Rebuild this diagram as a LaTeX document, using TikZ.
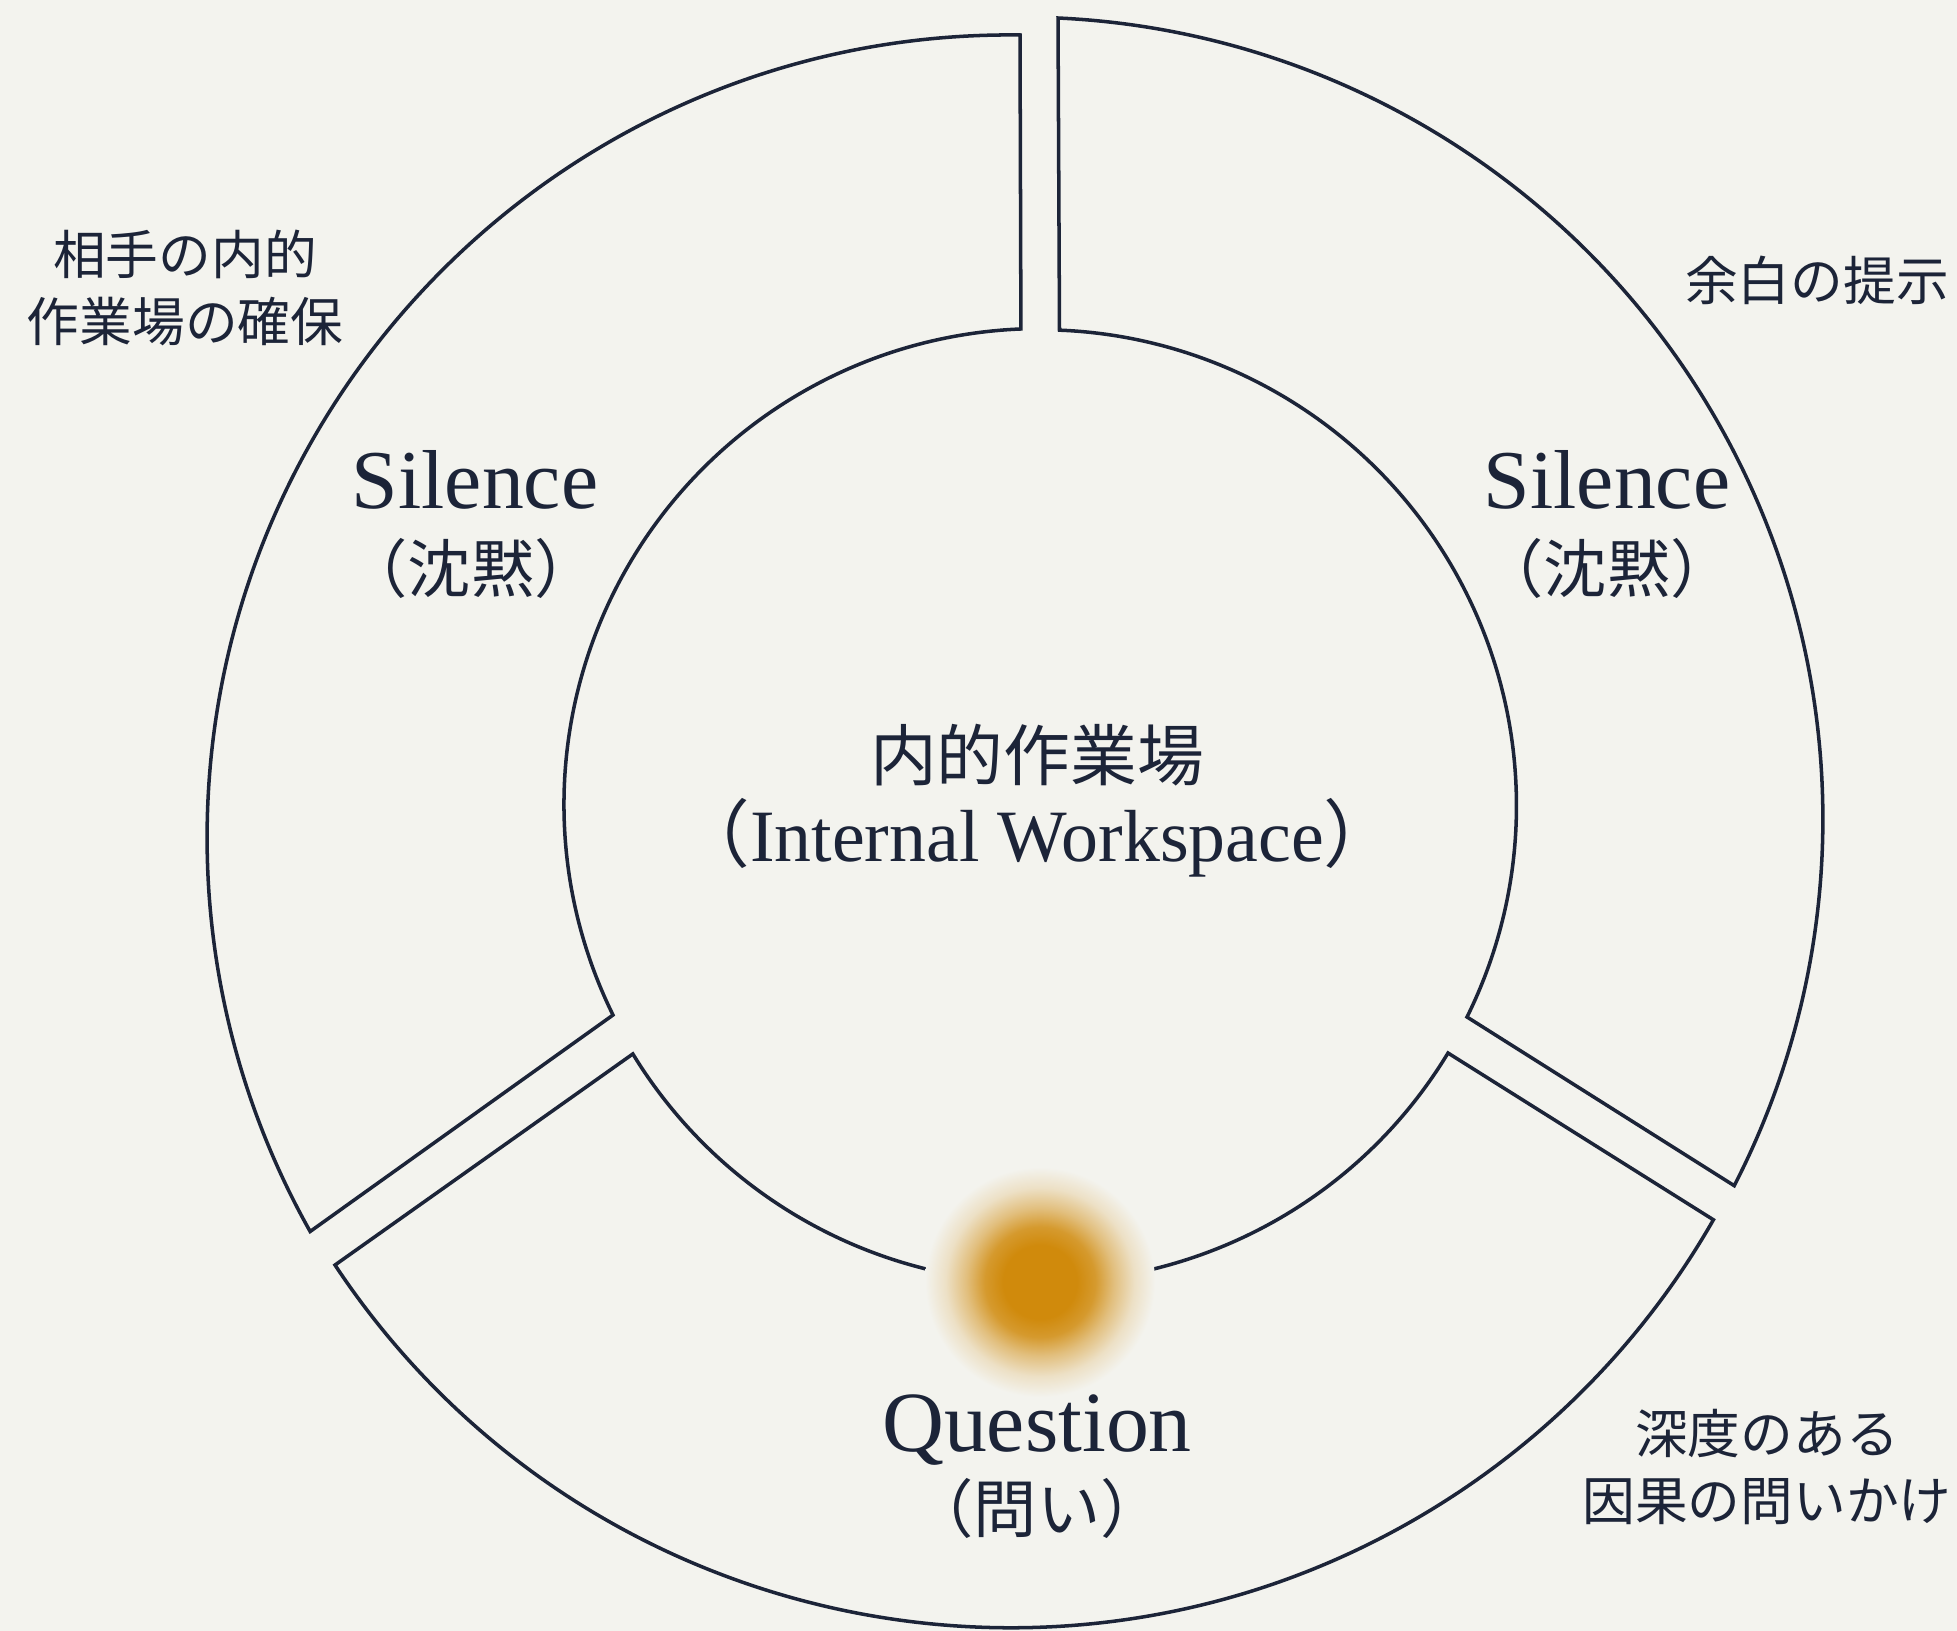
\documentclass[tikz,border=0pt]{standalone}
\usepackage{fontspec}
\setmainfont{Liberation Serif}
\newfontfamily\jp{Noto Sans CJK JP}
\definecolor{bg}{RGB}{243,243,238}
\definecolor{ink}{RGB}{28,36,56}
\definecolor{glowc}{RGB}{208,138,12}
\colorlet{glowa}{glowc!85!bg}
\colorlet{glowb}{glowc!50!bg}
\colorlet{glowd}{glowc!18!bg}
\pgfdeclareradialshading{glowshade}{\pgfpoint{0bp}{0bp}}{color(0bp)=(glowc); color(8bp)=(glowc); color(12bp)=(glowa); color(16bp)=(glowb); color(20.5bp)=(glowd); color(25bp)=(bg); color(50bp)=(bg)}
\begin{document}
\begin{tikzpicture}[
  seg/.style={draw=ink, line width=1pt, line join=miter},
  lab/.style={text=ink, align=center, inner sep=0pt},
  en/.style={lab, font=\fontsize{23.8}{28}\selectfont},
  jpbig/.style={lab, font=\jp\fontsize{18}{22}\selectfont},
  note/.style={lab, font=\jp\fontsize{15}{19}\selectfont}]
\fill[bg] (0,0) rectangle (19.57,-16.31);
\useasboundingbox (0,0) rectangle (19.57,-16.31);
% left segment (Silence)
\draw[seg] (10.20,-0.35) arc[start angle=89.29, end angle=209.35, radius=8.03]
  -- (6.13,-10.15) arc[start angle=206.24, end angle=92.29, radius=4.76] -- cycle;
% right segment (Silence)
\draw[seg] (10.58,-0.18) arc[start angle=87.35, end angle=-27.2, radius=8.02]
  -- (14.67,-10.17) arc[start angle=-26.35, end angle=87.71, radius=4.76] -- cycle;
% bottom segment (Question)
\draw[seg] (3.35,-12.65) arc[start angle=213.52, end angle=330.24, radius=8.10]
  -- (14.48,-10.53) arc[start angle=-31.23, end angle=-148.64, radius=4.77] -- cycle;
% glow
\shade[shading=glowshade] (10.40,-12.82) circle (1.15);
% labels
\node[en] (silL) at (4.75,-4.80) {Silence};
\node[jpbig] (silLj) at (4.71,-5.68) {（沈黙）};
\node[en] (silR) at (16.07,-4.80) {Silence};
\node[jpbig] (silRj) at (16.07,-5.68) {（沈黙）};
\node[lab, font=\jp\fontsize{19}{23}\selectfont] (core) at (10.37,-7.55) {内的作業場};
\node[lab, font=\fontsize{21}{25}\selectfont] (corej) at (10.37,-8.38) {{\jp （}Internal Workspace{\jp ）}};
\node[en, font=\fontsize{24.4}{28}\selectfont] (q) at (10.37,-14.30) {Question};
\node[jpbig] (qj) at (10.37,-15.08) {（問い）};
\node[note] (n1) at (1.85,-2.88) {相手の内的\\作業場の確保};
\node[note] (n2) at (18.17,-2.80) {余白の提示};
\node[note] (n3) at (17.67,-14.67) {深度のある\\因果の問いかけ};
\end{tikzpicture}
\end{document}
